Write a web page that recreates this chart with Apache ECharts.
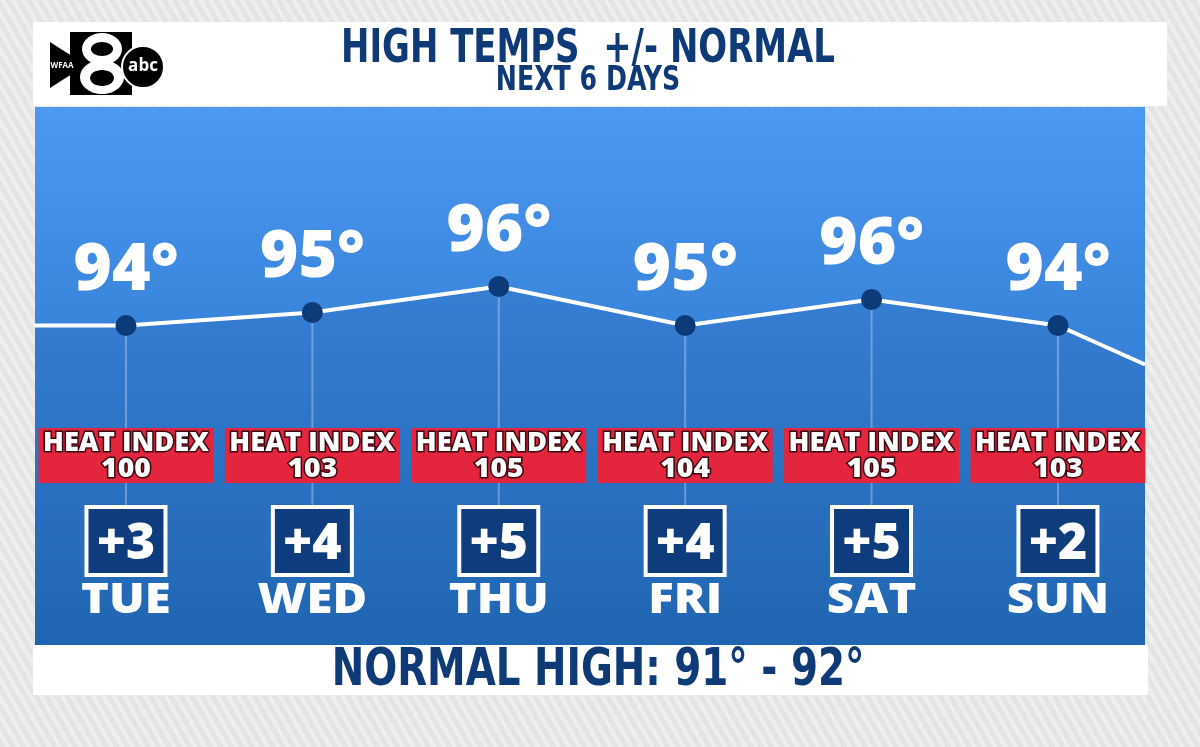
<!DOCTYPE html>
<html>
<head>
<meta charset="utf-8">
<script src="https://cdn.jsdelivr.net/npm/echarts@6/dist/echarts.min.js"></script>
<style>
  html, body { margin: 0; padding: 0; }
  #chart {
    width: 1200px; height: 747px;
    background-color: #e6e6e6;
    background-image: repeating-linear-gradient(60deg, #e4e4e4 0px, #e4e4e4 5px, #eeeeee 5px, #eeeeee 9px);
  }
</style>
</head>
<body>
<div id="chart"></div>
<script>
// ---- data ----
const days = ['TUE', 'WED', 'THU', 'FRI', 'SAT', 'SUN'];
const highTemps = [94, 95, 96, 95, 96, 94];          // labels above the dots
const lineLevels = [94, 95, 97, 94, 96, 94];         // plotted heights of the dots (as drawn)
const lineEdges = [94, 91];                          // line continuing to the panel edges
const heatIndex = [100, 103, 105, 104, 105, 103];
const departures = ['+3', '+4', '+5', '+4', '+5', '+2'];
const titleText = 'HIGH TEMPS  +/- NORMAL';
const subtitleText = 'NEXT 6 DAYS';
const footerText = 'NORMAL HIGH: 91° - 92°';

// ---- styling ----
const NAVY = '#0f3a78';
const RED = '#e3263d';
const BOX_NAVY = '#0e3c7d';
const HEAVY = "'Open Sans', 'Noto Sans', sans-serif";
const COND = "'Liberation Sans Narrow', 'DejaVu Sans Condensed', 'Open Sans', sans-serif";

const xMin = -0.488, xMax = days.length - 0.533;

const lineData = [{ value: [xMin, lineEdges[0]], symbol: 'none', label: { show: false } }]
  .concat(lineLevels.map((v, i) => ({ value: [i, v] })))
  .concat([{ value: [xMax, lineEdges[1]], symbol: 'none', label: { show: false } }]);

const dayData = days.map((d, i) => [i, lineLevels[i]]);

const chart = echarts.init(document.getElementById('chart'), null, { renderer: 'canvas' });

function condText(text, x, y, size, sx) {
  return { type: 'text', z: 11, x: x, y: y, scaleX: sx, scaleY: 1,
    style: { text: text, x: 0, y: 0, align: 'center', verticalAlign: 'middle',
      fill: NAVY, fontFamily: COND, fontWeight: 'bold', fontSize: size } };
}

const option = {
  backgroundColor: 'transparent',
  animation: false,
  grid: { left: 35, right: 55, top: 104.5, bottom: 96.5 },
  xAxis: { type: 'value', min: xMin, max: xMax, show: false },
  yAxis: { type: 'value', min: 69, max: 111, show: false },
  graphic: [
    // header white panel
    { type: 'rect', z: 0, shape: { x: 33, y: 22, width: 1134, height: 84 }, style: { fill: '#ffffff' } },
    // blue panel
    { type: 'rect', z: 0, shape: { x: 35, y: 107, width: 1110, height: 538 },
      style: { fill: new echarts.graphic.LinearGradient(0, 0, 0, 1, [
        { offset: 0, color: '#4c97f0' },
        { offset: 0.4, color: '#3a85dc' },
        { offset: 1, color: '#236cba' }
      ]) } },
    // footer white panel
    { type: 'rect', z: 10, shape: { x: 33, y: 645, width: 1115, height: 50 }, style: { fill: '#ffffff' } },
    // titles
    condText(titleText, 588, 50, 46, 0.82),
    condText(subtitleText, 588, 81, 33, 0.85),
    condText(footerText, 598, 671, 52, 0.83),
    // logo
    { type: 'rect', z: 11, shape: { x: 70, y: 32, width: 62, height: 63 }, style: { fill: '#000' } },
    { type: 'ellipse', z: 12, shape: { cx: 102, cy: 49, rx: 20, ry: 16 }, style: { fill: '#fff' } },
    { type: 'ellipse', z: 12, shape: { cx: 102, cy: 77, rx: 22, ry: 17 }, style: { fill: '#fff' } },
    { type: 'ellipse', z: 13, shape: { cx: 102, cy: 49, rx: 11, ry: 7 }, style: { fill: '#000' } },
    { type: 'ellipse', z: 13, shape: { cx: 102, cy: 78, rx: 12, ry: 8 }, style: { fill: '#000' } },
    { type: 'polygon', z: 14, shape: { points: [[50, 42], [50, 88], [86, 65]] }, style: { fill: '#000' } },
    { type: 'text', z: 15, style: { text: 'WFAA', x: 62, y: 66, align: 'center', verticalAlign: 'middle',
      fill: '#fff', fontFamily: HEAVY, fontWeight: 'bold', fontSize: 8 } },
    { type: 'circle', z: 14, shape: { cx: 143, cy: 67, r: 21 }, style: { fill: '#000', stroke: '#fff', lineWidth: 2 } },
    { type: 'text', z: 15, style: { text: 'abc', x: 143, y: 66, align: 'center', verticalAlign: 'middle',
      fill: '#fff', fontFamily: HEAVY, fontWeight: 'bold', fontSize: 17 } }
  ],
  series: [
    {
      type: 'custom',
      z: 1,
      silent: true,
      data: dayData,
      renderItem: function (params, api) {
        const p = api.coord([api.value(0), api.value(1)]);
        return {
          type: 'line',
          shape: { x1: p[0], y1: p[1], x2: p[0], y2: 506 },
          style: { stroke: 'rgba(200,225,255,0.45)', lineWidth: 2 }
        };
      }
    },
    {
      type: 'line',
      z: 2,
      data: lineData,
      lineStyle: { color: '#ffffff', width: 4 },
      symbol: 'circle',
      symbolSize: 21,
      itemStyle: { color: '#0d3a78', borderWidth: 0 },
      areaStyle: { color: 'rgba(0,30,90,0.12)', origin: 'start' },
      label: {
        show: true,
        position: 'top',
        distance: 11,
        color: '#ffffff',
        fontFamily: HEAVY,
        fontWeight: 800,
        fontSize: 66,
        formatter: function (p) { return highTemps[p.dataIndex - 1] + '°'; }
      }
    },
    {
      type: 'custom',
      z: 3,
      silent: true,
      data: dayData,
      renderItem: function (params, api) {
        const i = params.dataIndex;
        const x = api.coord([api.value(0), api.value(1)])[0];
        const outline = { stroke: '#3b0a12', lineWidth: 3, shadowBlur: 2, shadowColor: 'rgba(0,0,0,0.5)', shadowOffsetY: 1 };
        return {
          type: 'group',
          children: [
            { type: 'rect', shape: { x: x - 87.5, y: 428, width: 175, height: 55 }, style: { fill: RED } },
            { type: 'text', x: x, y: 444, scaleX: 1.05,
              style: Object.assign({ text: 'HEAT INDEX', x: 0, y: 0, align: 'center', verticalAlign: 'middle',
              fill: '#fff', fontFamily: HEAVY, fontWeight: 800, fontSize: 26 }, outline) },
            { type: 'text', x: x, y: 469, scaleX: 1.05,
              style: Object.assign({ text: String(heatIndex[i]), x: 0, y: 0, align: 'center', verticalAlign: 'middle',
              fill: '#fff', fontFamily: HEAVY, fontWeight: 800, fontSize: 27 }, outline) },
            { type: 'rect', shape: { x: x - 39.5, y: 507, width: 79, height: 68 },
              style: { fill: BOX_NAVY, stroke: '#ffffff', lineWidth: 4 } },
            { type: 'text', style: { text: departures[i], x: x, y: 545, align: 'center', verticalAlign: 'middle',
              fill: '#fff', fontFamily: HEAVY, fontWeight: 800, fontSize: 50 } },
            { type: 'text', x: x, y: 601, scaleX: 1.1,
              style: { text: days[i], x: 0, y: 0, align: 'center', verticalAlign: 'middle',
              fill: '#fff', fontFamily: HEAVY, fontWeight: 800, fontSize: 43 } }
          ]
        };
      }
    }
  ]
};
chart.setOption(option);
</script>
</body>
</html>
